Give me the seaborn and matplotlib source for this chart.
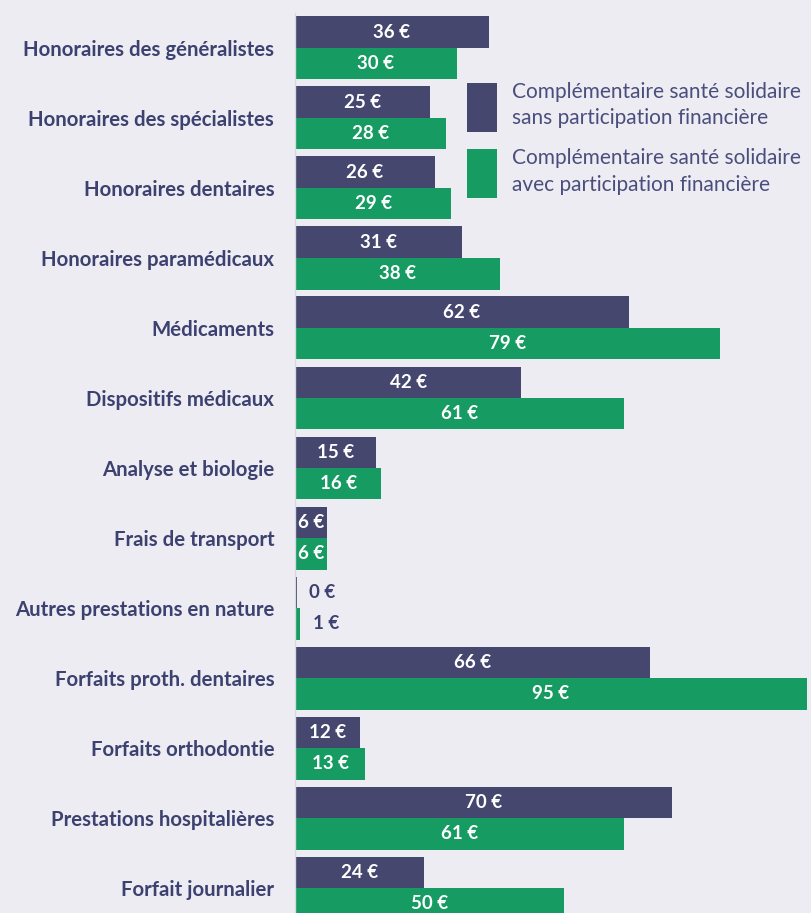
import matplotlib
matplotlib.use("Agg")
import matplotlib.pyplot as plt
import seaborn as sns
import pandas as pd
from matplotlib.patches import Patch

categories = [
    "Honoraires des généralistes",
    "Honoraires des spécialistes",
    "Honoraires dentaires",
    "Honoraires paramédicaux",
    "Médicaments",
    "Dispositifs médicaux",
    "Analyse et biologie",
    "Frais de transport",
    "Autres prestations en nature",
    "Forfaits proth. dentaires",
    "Forfaits orthodontie",
    "Prestations hospitalières",
    "Forfait journalier",
]
series_names = [
    "Complémentaire santé solidaire\nsans participation financière",
    "Complémentaire santé solidaire\navec participation financière",
]
sans_participation = [36, 25, 26, 31, 62, 42, 15, 6, 0.3, 66, 12, 70, 24]
avec_participation = [30, 28, 29, 38, 79, 61, 16, 6, 1, 95, 13, 61, 50]
sans_labels = [36, 25, 26, 31, 62, 42, 15, 6, 0, 66, 12, 70, 24]
avec_labels = [30, 28, 29, 38, 79, 61, 16, 6, 1, 95, 13, 61, 50]

colors = ["#45476F", "#169B62"]
bg = "#EDECF3"
text_col = "#3C4170"

df = pd.DataFrame({
    "cat": categories * 2,
    "val": sans_participation + avec_participation,
    "serie": [series_names[0]] * len(categories) + [series_names[1]] * len(categories),
})

sns.set_theme(style="white")
plt.rcParams["font.family"] = ["Lato", "DejaVu Sans"]

fig = plt.figure(figsize=(8.12, 9.13), dpi=100)
fig.patch.set_facecolor(bg)
ax = fig.add_axes([295 / 812, -10 / 913, 517 / 812, 910 / 913])
ax.set_facecolor(bg)

sns.barplot(data=df, y="cat", x="val", hue="serie", orient="h",
            palette=colors, width=0.9, dodge=True, ax=ax, legend=False,
            saturation=1, linewidth=0)

ax.set_xlim(0, 96)
ax.set_ylim(len(categories) - 0.5, -0.5)
ax.set_xlabel("")
ax.set_ylabel("")
ax.set_xticks([])
for s in ["top", "right", "bottom"]:
    ax.spines[s].set_visible(False)
ax.spines["left"].set_color("#D8D8E2")
ax.spines["left"].set_linewidth(1)

ax.set_yticks(range(len(categories)))
ax.set_yticklabels(categories, fontsize=14.7, fontweight="bold", color=text_col)
ax.tick_params(axis="y", which="major", length=0, pad=15)
ax.set_yticks([i + 0.5 for i in range(-1, len(categories))], minor=True)
ax.tick_params(axis="y", which="minor", length=6, color="#D8D8E2", width=1)

label_sets = [sans_labels, avec_labels]
for cont, labs in zip(ax.containers, label_sets):
    for bar, v in zip(cont, labs):
        y = bar.get_y() + bar.get_height() / 2
        w = bar.get_width()
        if v <= 2:
            ax.text(w + 2.3, y, f"{v} €", ha="left", va="center",
                    fontsize=13.5, fontweight="bold", color=text_col)
        else:
            ax.text(w / 2, y, f"{v} €", ha="center", va="center",
                    fontsize=13.5, fontweight="bold", color="white")

handles = [Patch(facecolor=c, edgecolor="none") for c in colors]
leg = fig.legend(handles, series_names, loc="upper left",
                 bbox_to_anchor=(467 / 812, 1 - 82 / 913), frameon=False,
                 fontsize=15, labelcolor="#4A4E7C", handlelength=1.44,
                 handleheight=3.25, handletextpad=0.7, labelspacing=0.8,
                 borderpad=0, borderaxespad=0)
for t in leg.get_texts():
    t.set_linespacing(1.4)

fig.savefig("out.png", dpi=100, facecolor=bg)
